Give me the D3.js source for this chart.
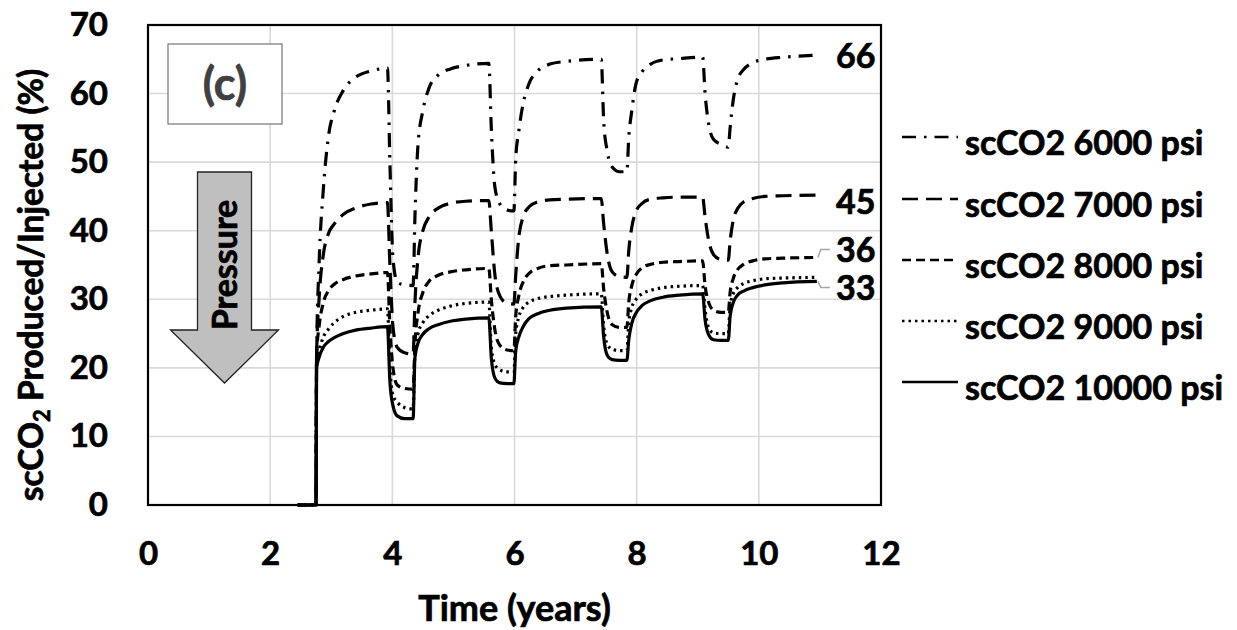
<!DOCTYPE html>
<html>
<head>
<meta charset="utf-8">
<script src="https://cdn.jsdelivr.net/npm/d3@7"></script>
<style>
  html, body { margin: 0; padding: 0; background: #fff; }
  svg { display: block; }
  text { font-family: Lato, "Open Sans", sans-serif; font-weight: 700; fill: #000; stroke: #000; stroke-width: 0.7px; }
</style>
</head>
<body>
<svg id="chart" width="1237" height="630"></svg>
<script>
// Time axis (years) shared by every pressure case
const years = [2.45, 2.75, 2.76, 2.8, 2.87, 2.95, 3.05, 3.2, 3.4, 3.65, 3.92,
  3.96, 4.01, 4.08, 4.2, 4.34,
  4.37, 4.42, 4.5, 4.6, 4.75, 4.95, 5.2, 5.58,
  5.62, 5.68, 5.76, 5.88, 5.99,
  6.02, 6.07, 6.14, 6.24, 6.38, 6.58, 6.85, 7.42,
  7.46, 7.52, 7.6, 7.72, 7.84,
  7.87, 7.92, 7.99, 8.09, 8.23, 8.43, 8.7, 9.08,
  9.12, 9.18, 9.26, 9.38, 9.5,
  9.53, 9.58, 9.65, 9.75, 9.9, 10.1, 10.4, 10.95];

// scCO2 produced / injected (%) for each injection pressure
const psi6000 = [0, 0, 22, 35, 46, 53.5, 57.5, 60.5, 62.4, 63.3, 63.7,
  50, 36, 32.5, 32.1, 32.0,
  42, 52.5, 57.5, 60.8, 62.7, 63.6, 64.1, 64.4,
  55, 46.3, 43.9, 43.0, 42.9,
  50.5, 54.5, 58.5, 61.5, 63.3, 64.3, 64.7, 65.0,
  56.0, 51.5, 49.3, 48.6, 48.6,
  53.5, 57.5, 61.5, 63.2, 64.3, 64.9, 65.1, 65.3,
  60.0, 55.5, 53.3, 52.6, 52.2,
  55.0, 59.0, 62.0, 63.5, 64.5, 65.0, 65.3, 65.6];
const psi7000 = [0, 0, 22, 30, 36.5, 39.5, 41.0, 42.4, 43.3, 43.9, 44.1,
  35, 26, 23.0, 22.2, 22.0,
  29.5, 36.0, 40.0, 42.0, 43.3, 44.0, 44.3, 44.4,
  40, 33.5, 30.5, 29.4, 29.3,
  33.5, 39.0, 42.0, 43.5, 44.2, 44.5, 44.6, 44.7,
  41, 36.5, 34.0, 33.3, 33.2,
  37.0, 40.5, 42.8, 44.0, 44.6, 44.8, 44.9, 44.9,
  42.0, 38.5, 36.5, 35.8, 35.7,
  38.5, 41.5, 43.2, 44.2, 44.7, 45.0, 45.1, 45.2];
const psi8000 = [0, 0, 22, 26, 29.5, 31.2, 32.2, 32.9, 33.4, 33.7, 33.9,
  26, 20, 17.5, 17.0, 16.9,
  23.5, 28.0, 31.0, 32.6, 33.5, 34.0, 34.3, 34.5,
  30, 25.5, 23.3, 22.6, 22.5,
  27.5, 30.5, 32.5, 33.8, 34.5, 34.9, 35.0, 35.2,
  31.5, 28.0, 26.3, 25.9, 25.9,
  29.5, 32.0, 33.6, 34.6, 35.1, 35.4, 35.5, 35.6,
  32.0, 29.5, 28.4, 28.1, 28.1,
  31.0, 33.0, 34.3, 35.1, 35.6, 35.9, 36.0, 36.1];
const psi9000 = [0, 0, 21.0, 22.5, 24.5, 25.6, 26.6, 27.5, 28.1, 28.4, 28.6,
  20, 16.0, 15.0, 14.2, 14.0,
  22.0, 25.0, 26.6, 27.6, 28.4, 29.0, 29.4, 29.6,
  23.0, 20.5, 19.7, 19.4, 19.4,
  25.0, 27.4, 28.8, 29.6, 30.1, 30.4, 30.6, 30.8,
  26.0, 23.4, 22.7, 22.5, 22.5,
  26.5, 28.8, 30.0, 30.8, 31.3, 31.7, 31.9, 32.0,
  28.5, 25.8, 25.1, 25.0, 25.0,
  29.0, 30.8, 31.7, 32.3, 32.7, 33.0, 33.1, 33.2];
const psi10000 = [0, 0, 20.0, 21.5, 23.0, 23.8, 24.4, 25.0, 25.5, 25.8, 26.0,
  18, 14.5, 13.0, 12.6, 12.6,
  21.5, 23.6, 24.9, 25.7, 26.3, 26.8, 27.1, 27.3,
  21.5, 18.5, 17.8, 17.7, 17.7,
  22.5, 24.5, 26.0, 27.2, 27.9, 28.4, 28.7, 28.9,
  24.5, 21.8, 21.2, 21.1, 21.1,
  24.0, 26.5, 28.0, 29.1, 29.8, 30.3, 30.6, 30.8,
  27.0, 24.8, 24.1, 24.0, 24.0,
  27.5, 29.5, 30.6, 31.2, 31.7, 32.1, 32.4, 32.6];

const seriesNames = ["scCO2 6000 psi", "scCO2 7000 psi", "scCO2 8000 psi", "scCO2 9000 psi", "scCO2 10000 psi"];
const seriesValues = [psi6000, psi7000, psi8000, psi9000, psi10000];
const dashStyles = ["14,8,2.5,8", "16,8", "9,5", "2.5,4", null];

const xTicks = [0, 2, 4, 6, 8, 10, 12];
const yTicks = [0, 10, 20, 30, 40, 50, 60, 70];

const svg = d3.select("#chart");
const x = d3.scaleLinear().domain([0, 12]).range([148, 881]);
const y = d3.scaleLinear().domain([0, 70]).range([505, 25]);

// grid
svg.append("g").selectAll("line.h").data(yTicks.slice(1, -1)).join("line")
  .attr("x1", x(0)).attr("x2", x(12)).attr("y1", d => y(d)).attr("y2", d => y(d))
  .attr("stroke", "#d9d9d9").attr("stroke-width", 1.6);
svg.append("g").selectAll("line.v").data(xTicks.slice(1, -1)).join("line")
  .attr("y1", y(0)).attr("y2", y(70)).attr("x1", d => x(d)).attr("x2", d => x(d))
  .attr("stroke", "#d9d9d9").attr("stroke-width", 1.6);

// axes (labels only)
const xAxis = svg.append("g").attr("transform", `translate(0,${y(0)})`)
  .call(d3.axisBottom(x).tickValues(xTicks).tickSize(0).tickPadding(37));
const yAxis = svg.append("g").attr("transform", `translate(${x(0)},0)`)
  .call(d3.axisLeft(y).tickValues(yTicks).tickSize(0).tickPadding(40));
[xAxis, yAxis].forEach(a => {
  a.select(".domain").remove();
  a.selectAll("text").style("font-family", "Lato, 'Open Sans', sans-serif")
    .style("font-weight", 700).style("font-size", "33px")
    .attr("fill", "#000").attr("stroke", "#000").attr("stroke-width", 0.7);
});

// plot frame
svg.append("rect").attr("x", x(0)).attr("y", y(70))
  .attr("width", x(12) - x(0)).attr("height", y(0) - y(70))
  .attr("fill", "none").attr("stroke", "#000").attr("stroke-width", 2.2);

// panel tag
svg.append("rect").attr("x", 168).attr("y", 44).attr("width", 114).attr("height", 80)
  .attr("fill", "#fff").attr("stroke", "#7f7f7f").attr("stroke-width", 1.3);
svg.append("text").attr("x", 225).attr("y", 100).attr("text-anchor", "middle")
  .style("font-size", "45px").style("fill", "#404040").style("stroke", "#404040").text("(c)");

// pressure arrow
const ax = 224.5;
svg.append("path")
  .attr("d", `M${ax - 27},172 L${ax + 27},172 L${ax + 27},330 L${ax + 54},330 L${ax},383 L${ax - 54},330 L${ax - 27},330 Z`)
  .attr("fill", "#bfbfbf").attr("stroke", "#222").attr("stroke-width", 1.3);
svg.append("text").attr("transform", `translate(${ax + 12},265) rotate(-90)`)
  .attr("text-anchor", "middle").style("font-size", "34px").text("Pressure");

// data lines
const line = d3.line().x((d, i) => x(years[i])).y(d => y(d)).curve(d3.curveMonotoneX);
const lines = svg.append("g");
seriesValues.forEach((vals, k) => {
  lines.append("path").datum(vals)
    .attr("d", line)
    .attr("fill", "none").attr("stroke", "#000").attr("stroke-width", 3.2)
    .attr("stroke-dasharray", dashStyles[k]);
});

// end-value callouts
const endOf = vals => vals[vals.length - 1];
const lastYear = years[years.length - 1];
const calloutX = 836;
svg.append("text").attr("x", calloutX).attr("y", y(endOf(psi6000)) + 13)
  .style("font-size", "34px").text(Math.round(endOf(psi6000)));
svg.append("text").attr("x", calloutX).attr("y", y(endOf(psi7000)) + 19)
  .style("font-size", "34px").text(Math.round(endOf(psi7000)));
svg.append("text").attr("x", calloutX).attr("y", y(endOf(psi8000)) + 5)
  .style("font-size", "34px").text(Math.round(endOf(psi8000)));
svg.append("text").attr("x", calloutX).attr("y", y(endOf(psi10000)) + 19)
  .style("font-size", "34px").text(Math.round(endOf(psi10000)));
const leader = (v, dy) => {
  const x0 = x(lastYear) + 1, y0 = y(v);
  svg.append("path").attr("d", `M${x0},${y0} L${x0 + 3},${y0 + dy} L${x0 + 12},${y0 + dy}`)
    .attr("fill", "none").attr("stroke", "#a6a6a6").attr("stroke-width", 1.5);
};
leader(endOf(psi8000), -8);
leader(endOf(psi10000), 6);

// legend
const legY = [137, 199, 260, 321, 382];
const leg = svg.append("g");
seriesNames.forEach((name, k) => {
  leg.append("line").attr("x1", 902).attr("x2", 958).attr("y1", legY[k]).attr("y2", legY[k])
    .attr("stroke", "#000").attr("stroke-width", 2.5).attr("stroke-dasharray", dashStyles[k]);
  leg.append("text").attr("x", 965).attr("y", legY[k] + 18)
    .style("font-size", "34px").text(name);
});

// axis titles
svg.append("text").attr("x", (x(0) + x(12)) / 2).attr("y", 621).attr("text-anchor", "middle")
  .style("font-size", "36px").text("Time (years)");
const yt = svg.append("text").attr("transform", "translate(43,285) rotate(-90)")
  .attr("text-anchor", "middle").style("font-size", "33.5px");
yt.append("tspan").text("scCO");
yt.append("tspan").attr("dy", 7).style("font-size", "22px").text("2");
yt.append("tspan").attr("dy", -7).text(" Produced/Injected (%)");
</script>
</body>
</html>
